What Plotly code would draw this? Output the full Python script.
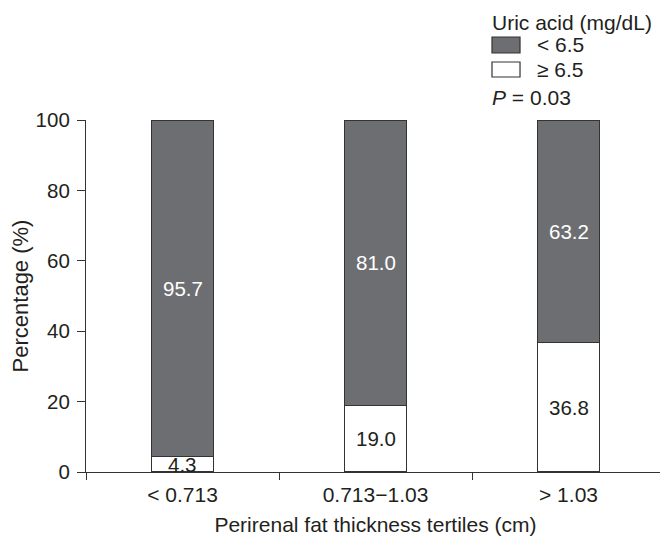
import plotly.graph_objects as go

categories = ["< 0.713", "0.713\u22121.03", "> 1.03"]
series_names = ["< 6.5", "\u2265 6.5"]
low_ua = [95.7, 81.0, 63.2]     # < 6.5 (gray)
high_ua = [4.3, 19.0, 36.8]     # >= 6.5 (white)
y_ticks = [0, 20, 40, 60, 80, 100]
legend_title = "Uric acid (mg/dL)"
p_text = "<i>P</i> = 0.03"

FONT = "Liberation Sans, Arial, sans-serif"
TXT = "#231f20"
GRAY = "#6d6e71"
LINE = "#333333"

fig = go.Figure()
fig.add_trace(go.Bar(
    x=categories, y=high_ua, name=series_names[1],
    marker=dict(color="white", line=dict(color=LINE, width=1.2)),
    width=0.32,
))
fig.add_trace(go.Bar(
    x=categories, y=low_ua, name=series_names[0],
    marker=dict(color=GRAY, line=dict(color=LINE, width=1.2)),
    width=0.32,
))

annotations = []
for c, h, l in zip(categories, high_ua, low_ua):
    annotations.append(dict(x=c, y=h / 2, text=f"{h:.1f}", showarrow=False,
                            font=dict(size=20.5, color=TXT, family=FONT)))
    annotations.append(dict(x=c, y=h + l / 2, text=f"{l:.1f}", showarrow=False,
                            font=dict(size=20.5, color="white", family=FONT)))

# manual legend (paper coordinates)
lf = dict(size=21, color=TXT, family=FONT)
LX = 0.6981
annotations.append(dict(xref="paper", yref="paper", x=LX, y=1.276,
                        xanchor="left", yanchor="middle", showarrow=False,
                        text=legend_title, font=lf))
annotations.append(dict(xref="paper", yref="paper", x=0.7755, y=1.2131,
                        xanchor="left", yanchor="middle", showarrow=False,
                        text=series_names[0], font=lf))
annotations.append(dict(xref="paper", yref="paper", x=0.7755, y=1.1435,
                        xanchor="left", yanchor="middle", showarrow=False,
                        text=series_names[1], font=lf))
annotations.append(dict(xref="paper", yref="paper", x=LX, y=1.0653,
                        xanchor="left", yanchor="middle", showarrow=False,
                        text=p_text, font=lf))
shapes = [
    dict(type="rect", xref="paper", yref="paper", x0=0.7012, x1=0.7496,
         y0=1.1903, y1=1.2358, fillcolor=GRAY, line=dict(color=LINE, width=1.2)),
    dict(type="rect", xref="paper", yref="paper", x0=0.7012, x1=0.7496,
         y0=1.1222, y1=1.1648, fillcolor="white", line=dict(color=LINE, width=1.2)),
]

fig.update_layout(
    width=668, height=539,
    # page body adds an 8px offset; margins compensate for it
    margin=dict(l=78, r=11, t=112, b=75),
    paper_bgcolor="white", plot_bgcolor="white",
    barmode="stack",
    font=dict(family=FONT, size=20, color=TXT),
    showlegend=False,
    xaxis=dict(
        type="category", range=[-0.5, 2.5], automargin=False,
        showline=True, linecolor=LINE, linewidth=1.2,
        ticks="outside", tickson="boundaries", ticklen=7, tickcolor=LINE,
        ticklabelstandoff=4,
        tickfont=dict(size=21, color=TXT, family=FONT),
        title=dict(text="Perirenal fat thickness tertiles (cm)",
                   font=dict(size=21, color=TXT, family=FONT), standoff=12),
        showgrid=False, zeroline=False,
    ),
    yaxis=dict(
        range=[0, 100], tickvals=y_ticks, automargin=False,
        showline=True, linecolor=LINE, linewidth=1.2,
        ticks="outside", ticklen=8, tickcolor=LINE,
        ticklabelstandoff=3,
        tickfont=dict(size=20.5, color=TXT, family=FONT),
        title=dict(text="Percentage (%)",
                   font=dict(size=22, color=TXT, family=FONT), standoff=1),
        showgrid=False, zeroline=False,
    ),
    annotations=annotations,
    shapes=shapes,
)

fig.write_html("out.html")
